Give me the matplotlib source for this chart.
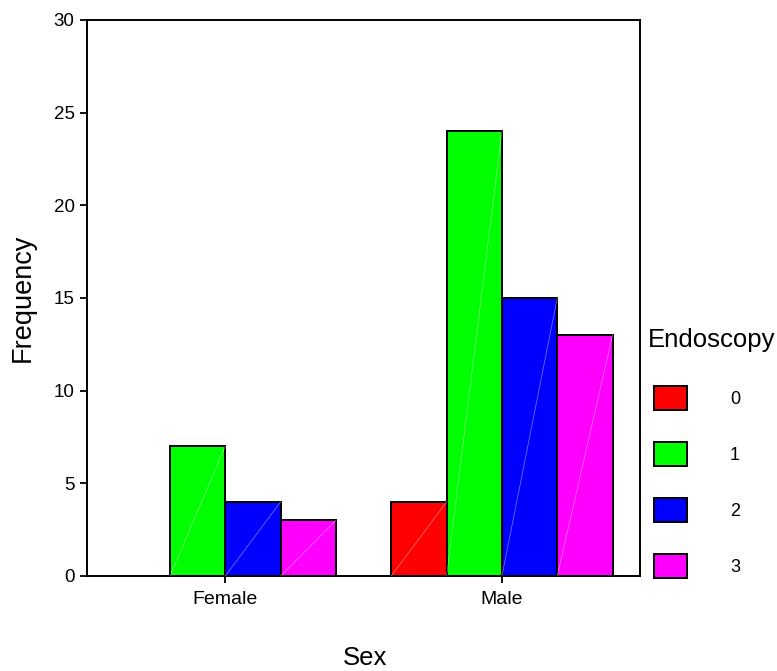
import numpy as np
import matplotlib.pyplot as plt
from matplotlib.patches import Patch

plt.rcParams['font.family'] = ['Liberation Sans', 'DejaVu Sans']

sexes = ["Female", "Male"]
endo_levels = ["0", "1", "2", "3"]
counts = {
    "0": [0, 4],
    "1": [7, 24],
    "2": [4, 15],
    "3": [3, 13],
}
colors = ["#ff0000", "#00ff00", "#0000ff", "#ff00ff"]

fig = plt.figure(figsize=(7.77, 6.71), dpi=100)
ax = fig.add_axes([0.112, 0.1416, 0.712, 0.8286])

x = np.arange(len(sexes))
w = 0.2
offsets = [-0.3, -0.1, 0.1, 0.3]
for lev, off, c in zip(endo_levels, offsets, colors):
    vals = counts[lev]
    for xi, v in zip(x, vals):
        if v == 0:
            continue
        ax.bar(xi + off, v, width=w, color=c, edgecolor="black", linewidth=1.4, zorder=2)
        # faint diagonal that the original renderer leaves inside each bar
        ax.plot([xi + off - w / 2, xi + off + w / 2], [0, v], color="white",
                lw=0.5, alpha=0.5, zorder=3)

ax.set_xlim(-0.5, 1.5)
ax.set_ylim(0, 30)
ax.set_xticks(x)
ax.set_xticklabels(sexes, fontsize=14)
ax.set_yticks([0, 5, 10, 15, 20, 25, 30])
ax.tick_params(axis="y", labelsize=13.5, length=5, width=1.3, pad=4)
ax.tick_params(axis="x", length=5, width=1.3, pad=6)
for s in ax.spines.values():
    s.set_linewidth(1.4)

fig.text(23 / 777, 1 - 298 / 671, "Frequency", rotation=90, fontsize=19.5,
         ha="center", va="center")
fig.text(365 / 777, 1 - 658 / 671, "Sex", fontsize=18.5, ha="center", va="center")

# legend title drawn separately so it can sit a bit left of the swatches
fig.text(648 / 777, 1 - 347 / 671, "Endoscopy", fontsize=18.5, ha="left", va="baseline")
handles = [Patch(facecolor=c, edgecolor="black", linewidth=1.4) for c in colors]
leg = fig.legend(handles, endo_levels, loc="upper left",
                 bbox_to_anchor=(654 / 777, 1 - 386 / 671), frameon=False, fontsize=13,
                 borderpad=0, borderaxespad=0, handlelength=1.83, handleheight=1.7,
                 labelspacing=1.75, handletextpad=2.38)

fig.savefig("out.png", dpi=100)
